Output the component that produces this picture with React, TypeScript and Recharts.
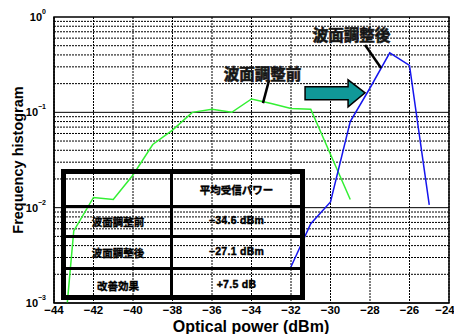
import React from "react";
import {
  LineChart,
  Line,
  XAxis,
  YAxis,
  CartesianGrid,
  ReferenceLine,
  ReferenceArea,
  ReferenceDot,
} from "recharts";

// 波面調整前 (before wavefront adjustment)
const beforePower = [-43.5, -43, -42, -41, -40, -39, -38, -37, -36, -35, -34, -33, -32, -31, -29];
const beforeFreq = [0.0004, 0.0057, 0.0128, 0.0122, 0.022, 0.046, 0.065, 0.1, 0.108, 0.1, 0.138, 0.124, 0.11, 0.108, 0.0122];

// 波面調整後 (after wavefront adjustment)
const afterPower = [-32, -31, -30, -29, -28, -27, -26, -25];
const afterFreq = [0.0024, 0.0068, 0.0115, 0.08, 0.18, 0.42, 0.31, 0.0107];

const xTicks = [-44, -42, -40, -38, -36, -34, -32, -30, -28, -26, -24];
const yTicks = [0.001, 0.01, 0.1, 1];
const minorGrid = [0.001, 0.01, 0.1].flatMap((d) => [2, 3, 4, 5, 6, 7, 8, 9].map((m) => +(m * d).toPrecision(3)));

const tableHeader = "平均受信パワー";
const tableRows = [
  { label: "波面調整前", value: "−34.6 dBm" },
  { label: "波面調整後", value: "−27.1 dBm" },
  { label: "改善効果", value: "+7.5 dB" },
];

const FONT = "'Liberation Sans', Arial, 'Noto Sans CJK JP', sans-serif";

const beforeData = beforePower.map((x, i) => ({ x, y: beforeFreq[i] }));
const afterData = afterPower.map((x, i) => ({ x, y: afterFreq[i] }));

const LogTick = ({ x, y, payload }: any) => {
  const exp = Math.round(Math.log10(payload.value));
  return (
    <text x={x} y={y} textAnchor="end" fontFamily={FONT} fontWeight="bold" fill="#000">
      <tspan fontSize={11} dy={4}>10</tspan>
      <tspan fontSize={7} dy={-7}>{exp === 0 ? "0" : "−" + Math.abs(exp)}</tspan>
    </text>
  );
};

const Arrow = ({ cx, cy }: any) => (
  <polygon
    points={`${cx - 60},${cy - 6} ${cx - 17},${cy - 6} ${cx - 17},${cy - 13} ${cx},${cy} ${cx - 17},${cy + 14} ${cx - 17},${cy + 7} ${cx - 60},${cy + 7}`}
    fill="#109898"
    stroke="#000"
    strokeWidth={1.5}
  />
);

const textShape = (text: string) => ({ cx, cy }: any) => (
  <text
    x={cx}
    y={cy}
    textAnchor="middle"
    dominantBaseline="central"
    fontFamily={FONT}
    fontWeight="bold"
    fontSize={15.5}
    fill="#111"
    stroke="#222"
    strokeWidth={0.7}
  >
    {text}
  </text>
);

const cellText: React.CSSProperties = {
  position: "absolute",
  textAlign: "center",
  fontSize: 10.5,
  fontWeight: "bold",
  WebkitTextStroke: "0.4px #000",
};

export default function App() {
  return (
    <div style={{ position: "relative", width: 454, height: 334, background: "#fff", fontFamily: FONT, overflow: "hidden" }}>
      <style>{"body{margin:0}"}</style>
      <LineChart width={454} height={334} margin={{ top: 17, right: 5, left: 0, bottom: 0 }}>
        <CartesianGrid horizontal={false} stroke="#000" strokeDasharray="2 1" />
        {minorGrid.map((v) => (
          <ReferenceLine key={v} y={v} stroke="#000" strokeDasharray="2 1" />
        ))}
        {[0.01, 0.1].map((v) => (
          <ReferenceLine key={"d" + v} y={v} stroke="#000" strokeWidth={1} />
        ))}
        <XAxis
          type="number"
          dataKey="x"
          domain={[-44, -24]}
          ticks={xTicks}
          height={31}
          tickLine={false}
          tickSize={0}
          tickMargin={3}
          axisLine={{ stroke: "#000" }}
          tick={{ fill: "#000", fontSize: 11.5, fontWeight: "bold", fontFamily: FONT }}
          tickFormatter={(v) => String(v).replace("-", "−")}
          allowDataOverflow
        />
        <YAxis
          type="number"
          dataKey="y"
          scale="log"
          domain={[0.001, 1]}
          ticks={yTicks}
          width={54}
          tickLine={false}
          axisLine={{ stroke: "#000" }}
          tick={<LogTick />}
          allowDataOverflow
        />
        <ReferenceArea x1={-44} x2={-24} y1={0.001} y2={1} fill="none" stroke="#000" strokeWidth={1.5} />
        <Line data={beforeData} dataKey="y" stroke="#33f033" strokeWidth={1.5} dot={false} isAnimationActive={false} />
        <Line data={afterData} dataKey="y" stroke="#1515ee" strokeWidth={1.5} dot={false} isAnimationActive={false} />
        <ReferenceLine segment={[{ x: -33.11, y: 0.218 }, { x: -33.42, y: 0.125 }]} stroke="#000" strokeWidth={2.5} />
        <ReferenceLine segment={[{ x: -28.25, y: 0.508 }, { x: -27.44, y: 0.292 }]} stroke="#000" strokeWidth={2.5} />
        <ReferenceDot x={-28.25} y={0.16} shape={<Arrow />} />
        <ReferenceDot x={-33.44} y={0.252} shape={textShape("波面調整前")} />
        <ReferenceDot x={-28.94} y={0.647} shape={textShape("波面調整後")} />
      </LineChart>

      {/* summary table */}
      <div style={{ position: "absolute", left: 61, top: 169, width: 234, height: 121, border: "5px solid #000" }}>
        <div style={{ position: "absolute", left: 104, top: 0, width: 3, height: "100%", background: "#000" }} />
        {[31, 61, 93].map((t) => (
          <div key={t} style={{ position: "absolute", left: 0, top: t, width: "100%", height: 3, background: "#000" }} />
        ))}
        <div style={{ ...cellText, left: 107, width: 127, top: 8 }}>{tableHeader}</div>
        {tableRows.map((r, i) => (
          <React.Fragment key={r.label}>
            <div style={{ ...cellText, left: 0, width: 104, top: [40, 71, 104][i] }}>{r.label}</div>
            <div style={{ ...cellText, left: 107, width: 127, top: [40, 71, 104][i], letterSpacing: 0.3 }}>{r.value}</div>
          </React.Fragment>
        ))}
      </div>

      <div
        style={{
          position: "absolute",
          left: 0,
          width: 454,
          top: 320,
          height: 14,
          lineHeight: "14px",
          paddingLeft: 48,
          boxSizing: "border-box",
          textAlign: "center",
          fontSize: 16,
          fontWeight: "bold",
        }}
      >
        Optical power (dBm)
      </div>
      <div
        style={{
          position: "absolute",
          left: 18,
          top: 160,
          transform: "translate(-50%, -50%) rotate(-90deg)",
          whiteSpace: "nowrap",
          fontSize: 14.5,
          fontWeight: "bold",
        }}
      >
        Frequency histogram
      </div>
    </div>
  );
}
